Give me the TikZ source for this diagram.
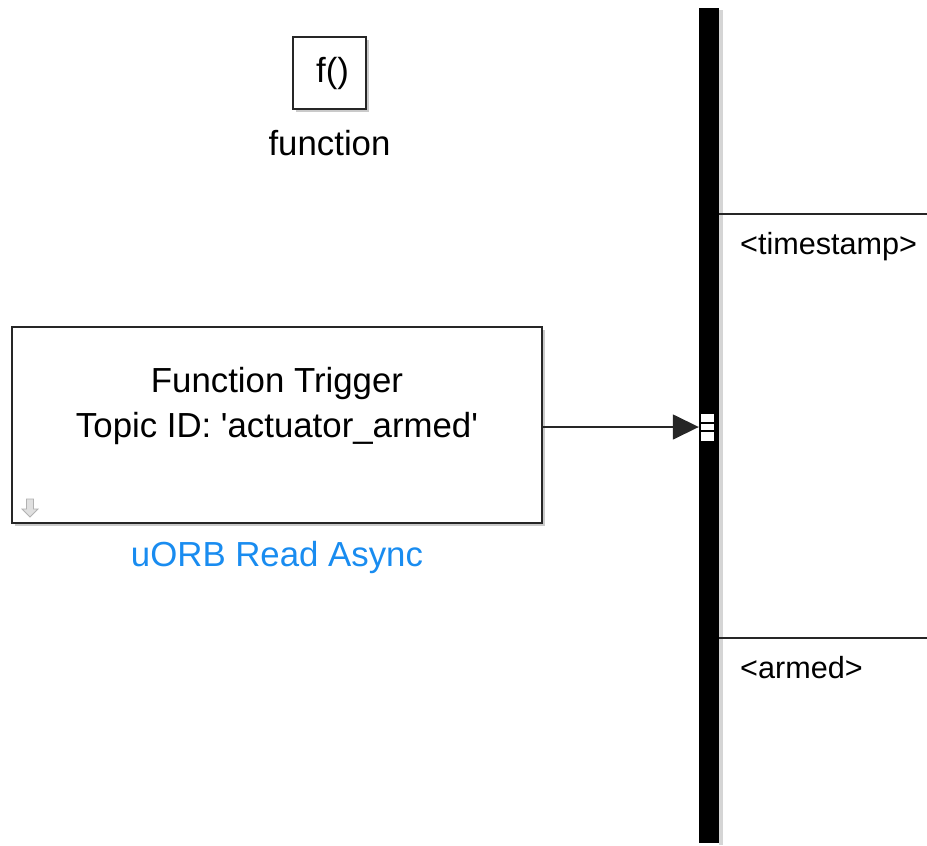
\documentclass[tikz,border=0pt]{standalone}
\usepackage{fontspec}
\setmainfont{Liberation Sans}
\usetikzlibrary{arrows.meta,positioning}
\definecolor{linkblue}{RGB}{25,140,240}
\definecolor{shadowgray}{RGB}{150,150,150}
\tikzset{
  blockbox/.style={draw=black!85, line width=2pt, fill=white, inner sep=0pt,
    minimum width=#1, rectangle},
  bigtext/.style={font=\fontsize{34.8}{45}\selectfont, inner sep=0pt},
  porttext/.style={font=\fontsize{30.6}{36}\selectfont, inner sep=0pt, anchor=west},
  signal/.style={line width=1.6pt, draw=black!85},
  busbar/.style={fill=black, draw=none, inner sep=0pt, minimum width=20pt, minimum height=835pt},
}
\begin{document}
\begin{tikzpicture}[x=1pt,y=-1pt]
\useasboundingbox (0,0) rectangle (927,846);
% shadows
\fill[shadowgray!50] (296,40) rectangle (369,112);
\fill[shadowgray!50] (15,330) rectangle (545,526);
% f() block
\node[blockbox=73pt, minimum height=72pt] (fblk) at (329.5,73) {};
\node[bigtext] (ftxt) at (332.5,73) {f()};
\node[bigtext] (flbl) at (329.5,143) {function};
% uORB block
\node[blockbox=530pt, minimum height=196pt] (blk) at (277,425) {};
\node[bigtext, align=center] (btxt) at (277,405.5) {Function Trigger\\Topic ID: \textquotesingle actuator\_armed\textquotesingle};
\node[bigtext, text=linkblue] (blbl) at (277,557) {uORB Read Async};
% down-arrow icon
\node[inner sep=0pt, minimum size=1pt] (icon) at (30,508) {};
\filldraw[fill=black!12, draw=black!30, line width=0.8pt]
  ([xshift=-3.5pt,yshift=9pt]icon.center) -- ([xshift=3.5pt,yshift=9pt]icon.center)
  -- ([xshift=3.5pt,yshift=-1pt]icon.center) -- ([xshift=8pt,yshift=-1pt]icon.center)
  -- ([yshift=-9pt]icon.center) -- ([xshift=-8pt,yshift=-1pt]icon.center)
  -- ([xshift=-3.5pt,yshift=-1pt]icon.center) -- cycle;
% bus
\fill[shadowgray!40] (719,10) rectangle (723,845);
\node[busbar] (bus) at (709,425.5) {};
% port marker
\node[fill=white, inner sep=0pt, minimum width=13pt, minimum height=27pt] (port) at (707.5,427) {};
\draw[line width=2pt] (port.west |- 0,423) -- (port.east |- 0,423);
\draw[line width=2pt] (port.west |- 0,431) -- (port.east |- 0,431);
% input arrow
\draw[signal, -{Triangle[length=26pt, width=25pt]}] (blk.east |- 0,427) -- (bus.west |- 0,427);
% outputs
\coordinate (o1) at (927,214);
\coordinate (o2) at (927,638);
\draw[signal] (bus.east |- o1) -- (o1);
\draw[signal] (bus.east |- o2) -- (o2);
\node[porttext] (l1) at (740,247) {<timestamp>};
\node[porttext] (l2) at (740,668) {<armed>};
\end{tikzpicture}
\end{document}
